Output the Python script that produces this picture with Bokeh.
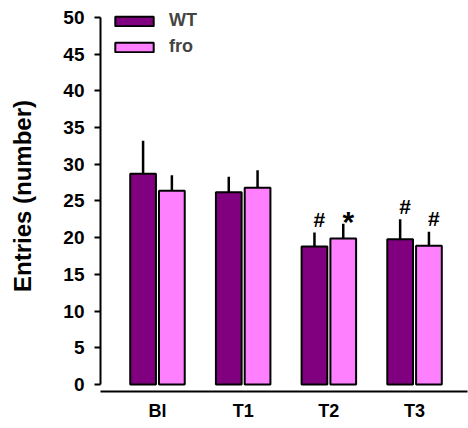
import numpy as np
from bokeh.plotting import figure
from bokeh.models import Range1d, FixedTicker, ColumnDataSource, Legend, LegendItem
from bokeh.core.properties import value
from bokeh.embed import file_html
from bokeh.resources import INLINE

categories = ["Bl", "T1", "T2", "T3"]
wt_mean = [28.7, 26.2, 18.8, 19.8]
wt_err = [4.5, 2.1, 1.9, 2.7]
fro_mean = [26.4, 26.8, 19.9, 18.9]
fro_err = [2.1, 2.4, 2.0, 1.9]
wt_marks = ["", "", "#", "#"]
fro_marks = ["", "", "*", "#"]
y_ticks = [0, 5, 10, 15, 20, 25, 30, 35, 40, 45, 50]

FONT = "Liberation Sans"
WT_COLOR = "#800080"
FRO_COLOR = "#FF80FF"

idx = np.arange(len(categories))
off = 0.168
bw = 0.30


def mark_style(marks):
    sizes = ["30px" if m == "*" else "21px" for m in marks]
    yoffs = [-2 if m == "*" else -13 for m in marks]
    return sizes, yoffs


p = figure(width=468, height=428, output_backend="svg", toolbar_location=None,
           x_range=Range1d(-0.665, 3.618), y_range=Range1d(-0.954, 52.316),
           min_border_left=100, min_border_right=1, min_border_top=0, min_border_bottom=37)
p.outline_line_color = None
p.grid.visible = False
p.background_fill_color = "white"

srcs = []
for xs, mean, err, marks in ((idx - off, wt_mean, wt_err, wt_marks),
                             (idx + off, fro_mean, fro_err, fro_marks)):
    sizes, yoffs = mark_style(marks)
    srcs.append(ColumnDataSource(dict(x=xs, top=mean, hi=np.array(mean) + np.array(err),
                                      mark=marks, size=sizes, yoff=yoffs)))
wt_src, fro_src = srcs

# error bars (upper only)
for src in srcs:
    p.segment(x0="x", y0="top", x1="x", y1="hi", source=src, line_color="black", line_width=2.5)

r_wt = p.vbar(x="x", top="top", bottom=0, width=bw, source=wt_src,
              fill_color=WT_COLOR, line_color="black", line_width=2)
r_fro = p.vbar(x="x", top="top", bottom=0, width=bw, source=fro_src,
               fill_color=FRO_COLOR, line_color="black", line_width=2)

for src in srcs:
    p.text(x="x", y="hi", text="mark", source=src, text_font=value(FONT),
           text_font_style="bold", text_font_size="size", text_align="center",
           text_baseline="middle", x_offset=5, y_offset="yoff", text_color="black")

legend = Legend(items=[LegendItem(label="WT", renderers=[r_wt]),
                       LegendItem(label="fro", renderers=[r_fro])],
                location=(10, 333.5), padding=0, margin=0, spacing=4,
                glyph_width=48, glyph_height=12, label_height=22, label_standoff=11,
                label_text_font=FONT, label_text_font_style="bold", label_text_font_size="18px",
                border_line_color=None, background_fill_alpha=0)
p.add_layout(legend)

# y axis
p.yaxis.ticker = FixedTicker(ticks=y_ticks)
p.yaxis.bounds = (0, 50)
p.yaxis.axis_line_width = 2
p.yaxis.major_tick_line_width = 2
p.yaxis.major_tick_out = 6
p.yaxis.major_tick_in = 0
p.yaxis.minor_tick_line_color = None
p.yaxis.major_label_standoff = 10
p.yaxis.major_label_text_font = FONT
p.yaxis.major_label_text_font_style = "bold"
p.yaxis.major_label_text_font_size = "19px"
p.yaxis.major_label_text_color = "black"
p.yaxis.axis_label = "Entries (number)"
p.yaxis.axis_label_text_font = FONT
p.yaxis.axis_label_text_font_style = "bold"
p.yaxis.axis_label_text_font_size = "24px"
p.yaxis.axis_label_standoff = 24
p.yaxis.axis_label_text_color = "black"

# x axis
p.xaxis.ticker = FixedTicker(ticks=list(idx))
p.xaxis.major_label_overrides = {int(i): c for i, c in zip(idx, categories)}
p.xaxis.axis_line_width = 2
p.xaxis.major_tick_line_color = None
p.xaxis.minor_tick_line_color = None
p.xaxis.major_tick_out = 0
p.xaxis.major_tick_in = 0
p.xaxis.major_label_standoff = 9
p.xaxis.major_label_text_font = FONT
p.xaxis.major_label_text_font_style = "bold"
p.xaxis.major_label_text_font_size = "18px"
p.xaxis.major_label_text_color = "black"

open("out.html", "w").write(file_html(p, INLINE))
